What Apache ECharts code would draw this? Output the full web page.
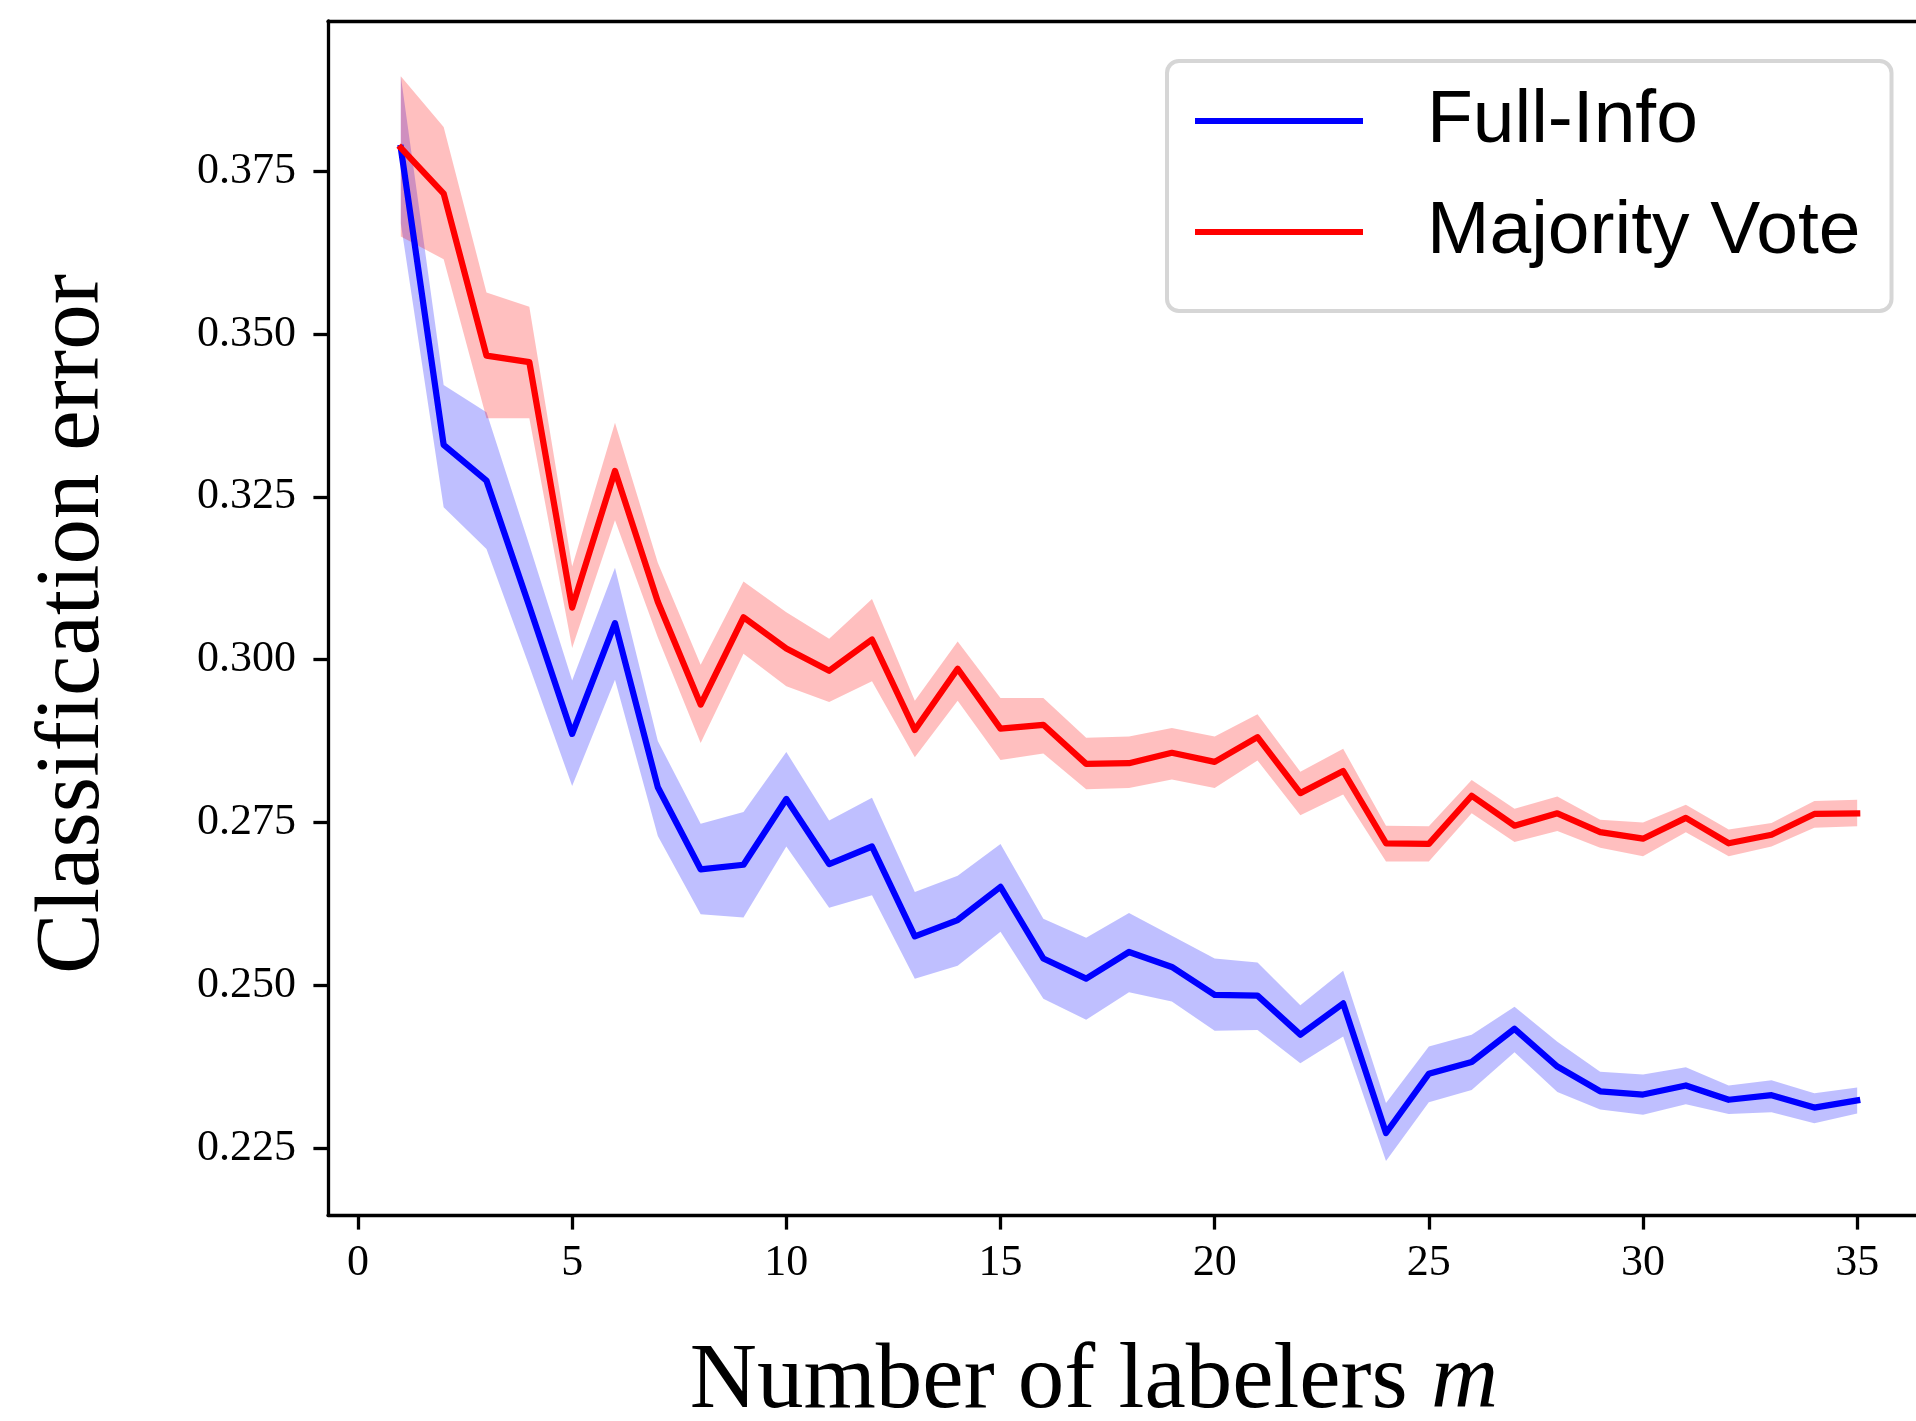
<!DOCTYPE html>
<html>
<head>
<meta charset="utf-8">
<script src="https://cdn.jsdelivr.net/npm/echarts@6/dist/echarts.min.js"></script>
<style>
  html, body { margin: 0; padding: 0; background: #ffffff; }
  #chart { width: 1916px; height: 1421px; }
</style>
</head>
<body>
<div id="chart"></div>
<script>
// ---- data ----
const labelers = [1, 2, 3, 4, 5, 6, 7, 8, 9, 10, 11, 12, 13, 14, 15, 16, 17, 18, 19, 20,
                  21, 22, 23, 24, 25, 26, 27, 28, 29, 30, 31, 32, 33, 34, 35];

const fullInfoMean  = [0.3786, 0.3330, 0.3275, 0.3082, 0.2886, 0.3056, 0.2804, 0.2678, 0.2685, 0.2786,
                       0.2686, 0.2713, 0.2575, 0.2600, 0.2651, 0.2541, 0.2510, 0.2551, 0.2528, 0.2485,
                       0.2484, 0.2424, 0.2472, 0.2273, 0.2364, 0.2382, 0.2433, 0.2375, 0.2337, 0.2332,
                       0.2346, 0.2324, 0.2331, 0.2312, 0.2323];
const fullInfoUpper = [0.3896, 0.3422, 0.3380, 0.3176, 0.2968, 0.3141, 0.2875, 0.2748, 0.2766, 0.2858,
                       0.2753, 0.2788, 0.2643, 0.2668, 0.2717, 0.2602, 0.2573, 0.2611, 0.2576, 0.2541,
                       0.2535, 0.2469, 0.2522, 0.2319, 0.2406, 0.2424, 0.2467, 0.2413, 0.2367, 0.2363,
                       0.2374, 0.2346, 0.2354, 0.2334, 0.2343];
const fullInfoLower = [0.3670, 0.3234, 0.3170, 0.2990, 0.2806, 0.2969, 0.2729, 0.2609, 0.2604, 0.2713,
                       0.2619, 0.2638, 0.2510, 0.2530, 0.2582, 0.2479, 0.2447, 0.2489, 0.2475, 0.2430,
                       0.2431, 0.2380, 0.2421, 0.2230, 0.2320, 0.2339, 0.2397, 0.2336, 0.2309, 0.2301,
                       0.2317, 0.2302, 0.2305, 0.2288, 0.2303];

const majorityMean  = [0.3786, 0.3716, 0.3467, 0.3457, 0.3080, 0.3290, 0.3089, 0.2931, 0.3065, 0.3017,
                       0.2983, 0.3031, 0.2892, 0.2986, 0.2894, 0.2900, 0.2840, 0.2841, 0.2857, 0.2843,
                       0.2881, 0.2795, 0.2829, 0.2718, 0.2717, 0.2791, 0.2745, 0.2764, 0.2735, 0.2725,
                       0.2757, 0.2718, 0.2731, 0.2763, 0.2764];
const majorityUpper = [0.3896, 0.3818, 0.3564, 0.3542, 0.3143, 0.3364, 0.3149, 0.2992, 0.3120, 0.3073,
                       0.3032, 0.3093, 0.2937, 0.3028, 0.2941, 0.2941, 0.2880, 0.2882, 0.2895, 0.2882,
                       0.2916, 0.2828, 0.2863, 0.2745, 0.2744, 0.2815, 0.2771, 0.2790, 0.2754, 0.2750,
                       0.2777, 0.2739, 0.2749, 0.2783, 0.2785];
const majorityLower = [0.3650, 0.3615, 0.3371, 0.3371, 0.3018, 0.3214, 0.3034, 0.2872, 0.3009, 0.2959,
                       0.2935, 0.2967, 0.2850, 0.2937, 0.2846, 0.2856, 0.2801, 0.2803, 0.2816, 0.2803,
                       0.2845, 0.2761, 0.2793, 0.2690, 0.2690, 0.2764, 0.2720, 0.2737, 0.2711, 0.2698,
                       0.2735, 0.2698, 0.2713, 0.2742, 0.2744];

const xTicks = [0, 5, 10, 15, 20, 25, 30, 35];
const yTicks = [0.225, 0.250, 0.275, 0.300, 0.325, 0.350, 0.375];

const seriesNames = ['Full-Info', 'Majority Vote'];
const xTitle = 'Number of labelers ';
const xTitleVar = 'm';
const yTitle = 'Classification error';

// ---- chart ----
const chart = echarts.init(document.getElementById('chart'), null, { renderer: 'canvas' });

const SERIF = '"Liberation Serif", "DejaVu Serif", serif';
const SANS = '"Liberation Sans", "DejaVu Sans", sans-serif';

function bandRenderer(lower, upper, fill) {
  return function (params, api) {
    if (params.dataIndex !== 0) return null;
    const pts = [];
    for (let i = 0; i < labelers.length; i++) pts.push(api.coord([labelers[i], upper[i]]));
    for (let i = labelers.length - 1; i >= 0; i--) pts.push(api.coord([labelers[i], lower[i]]));
    return { type: 'polygon', shape: { points: pts }, style: { fill: fill, stroke: null } };
  };
}

function bandData(lower, upper) {
  return labelers.map((x, i) => [x, lower[i], upper[i]]);
}

const spine = { show: true, onZero: false, lineStyle: { color: '#000', width: 3.3 } };

const option = {
  backgroundColor: '#ffffff',
  animation: false,
  grid: {
    left: 328, top: 21, right: -14, bottom: 206,
    outerBoundsMode: 'none',
    containLabel: false,
    show: false
  },
  xAxis: [
    {
      type: 'value', min: -0.7, max: 36.7, position: 'bottom',
      name: xTitle + '{i|' + xTitleVar + '}',
      nameLocation: 'middle', nameGap: 121,
      nameTextStyle: {
        fontFamily: SERIF, fontSize: 93, color: '#000', padding: [0, 70, 0, 0],
        rich: { i: { fontFamily: SERIF, fontStyle: 'italic', fontSize: 93, color: '#000' } }
      },
      axisLine: spine,
      axisTick: { show: true, inside: false, length: 14.6, lineStyle: { color: '#000', width: 3.3 }, customValues: xTicks },
      axisLabel: { show: true, customValues: xTicks, margin: 26, fontFamily: SERIF, fontSize: 44, color: '#000' },
      splitLine: { show: false }
    },
    {
      type: 'value', min: -0.7, max: 36.7, position: 'top',
      axisLine: spine,
      axisTick: { show: false }, axisLabel: { show: false }, splitLine: { show: false }
    }
  ],
  yAxis: {
    type: 'value', min: 0.2147, max: 0.3981,
    name: yTitle, nameLocation: 'middle', nameGap: 208, nameRotate: 90,
    nameTextStyle: { fontFamily: SERIF, fontSize: 91, color: '#000', padding: [0, 12, 0, 0] },
    axisLine: spine,
    axisTick: { show: true, inside: false, length: 14.6, lineStyle: { color: '#000', width: 3.3 }, customValues: yTicks },
    axisLabel: {
      show: true, customValues: yTicks, margin: 32, fontFamily: SERIF, fontSize: 44, color: '#000',
      formatter: v => v.toFixed(3)
    },
    splitLine: { show: false }
  },
  legend: {
    data: seriesNames,
    orient: 'vertical',
    left: 1167, top: 61,
    padding: [9, 31, 28, 28],
    itemWidth: 168, itemHeight: 6, itemGap: 9,
    icon: 'rect',
    backgroundColor: 'rgba(255,255,255,0.8)',
    borderColor: '#d6d6d6', borderWidth: 4, borderRadius: 12,
    textStyle: { fontFamily: SANS, fontSize: 75, lineHeight: 80, color: '#000', padding: [22, 0, 0, 59] },
    selectedMode: false
  },
  series: [
    {
      type: 'custom', name: 'Full-Info band', silent: true, z: 1,
      data: bandData(fullInfoLower, fullInfoUpper), encode: { x: 0, y: [1, 2] },
      renderItem: bandRenderer(fullInfoLower, fullInfoUpper, 'rgba(0,0,255,0.25)')
    },
    {
      type: 'custom', name: 'Majority Vote band', silent: true, z: 1,
      data: bandData(majorityLower, majorityUpper), encode: { x: 0, y: [1, 2] },
      renderItem: bandRenderer(majorityLower, majorityUpper, 'rgba(255,0,0,0.25)')
    },
    {
      type: 'line', name: seriesNames[0], z: 3,
      data: labelers.map((x, i) => [x, fullInfoMean[i]]),
      showSymbol: false, symbol: 'none',
      color: '#0000ff',
      lineStyle: { color: '#0000ff', width: 6.25, join: 'round', cap: 'square' }
    },
    {
      type: 'line', name: seriesNames[1], z: 4,
      data: labelers.map((x, i) => [x, majorityMean[i]]),
      showSymbol: false, symbol: 'none',
      color: '#ff0000',
      lineStyle: { color: '#ff0000', width: 6.25, join: 'round', cap: 'square' }
    }
  ]
};

chart.setOption(option);
</script>
</body>
</html>
